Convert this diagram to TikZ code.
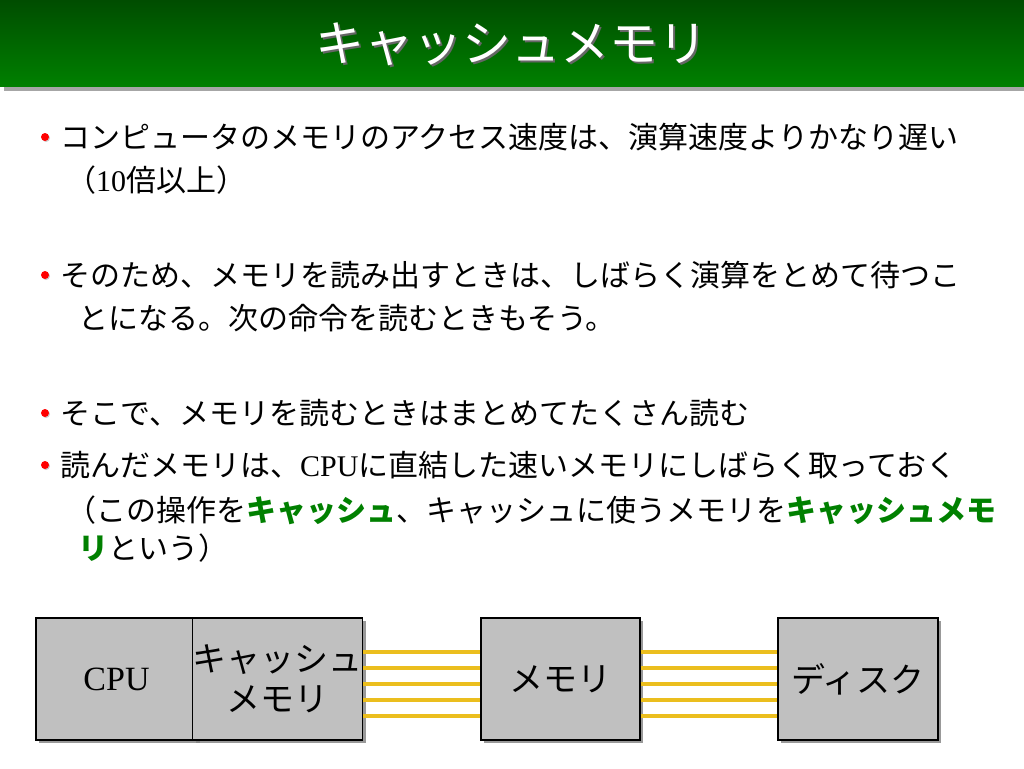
\documentclass[tikz,border=0pt]{standalone}
\usepackage{fontspec}
\setmainfont{Noto Sans CJK JP}
\newfontfamily\cjk{Noto Sans CJK JP}
\newfontfamily\tms{Liberation Serif}
\usetikzlibrary{shadows}
\definecolor{tgreen}{RGB}{0,128,0}
\definecolor{boxgray}{RGB}{192,192,192}
\definecolor{wire}{RGB}{235,190,30}
\begin{document}
\begin{tikzpicture}[x=1pt,y=-1pt,
  txt/.style={anchor=west,inner sep=0pt,font=\fontsize{30}{30}\selectfont},
  bul/.style={circle,fill=red,inner sep=0pt,minimum size=8pt,drop shadow={shadow xshift=1pt,shadow yshift=-1pt,opacity=0.4}},
  blk/.style={draw=black,line width=1.2pt,fill=boxgray,inner sep=0pt,drop shadow={shadow xshift=3pt,shadow yshift=-3pt,fill=gray,opacity=0.8},font=\fontsize{34}{40}\selectfont,align=center},
  wr/.style={draw=wire,line width=3.5pt}]
\useasboundingbox (0,0) rectangle (1024,768);
\fill[gray!70] (4,86) rectangle (1024,91);
\shade[top color=black!40!tgreen,bottom color=tgreen] (0,0) rectangle (1024,86);
\node (title) [font=\fontsize{49}{49}\selectfont,text=black!60] at (513,46) {キャッシュメモリ};
\node (title2) [font=\fontsize{49}{49}\selectfont,text=white] at (511,44) {キャッシュメモリ};
\node (b1) [bul] at (45,137) {};
\node (t1) [txt] at (60,137) {コンピュータのメモリのアクセス速度は、演算速度よりかなり遅い};
\node (t1b) [txt] at (66,180) {（{\tms 10}倍以上）};
\node (b2) [bul] at (45,275) {};
\node (t2) [txt] at (60,275) {そのため、メモリを読み出すときは、しばらく演算をとめて待つこ};
\node (t2b) [txt] at (78,318) {とになる。次の命令を読むときもそう。};
\node (b3) [bul] at (45,413) {};
\node (t3) [txt] at (60,413) {そこで、メモリを読むときはまとめてたくさん読む};
\node (b4) [bul] at (45,465) {};
\node (t4) [txt] at (60,465) {読んだメモリは、{\tms CPU}に直結した速いメモリにしばらく取っておく};
\node (t4b) [txt] at (66,510) {（この操作を{\color{tgreen}\bfseries キャッシュ}、キャッシュに使うメモリを{\color{tgreen}\bfseries キャッシュメモ}};
\node (t4c) [txt] at (78,548) {{\color{tgreen}\bfseries リ}という）};
\node (cpu) [blk,minimum width=161pt,minimum height=122pt] at (116.5,679) {\tms CPU};
\node (cache) [blk,minimum width=161pt,minimum height=122pt] at (277.5,679) {キャッシュ\\メモリ};
\node (mem) [blk,minimum width=159pt,minimum height=122pt] at (560.5,679) {メモリ};
\node (disk) [blk,minimum width=160pt,minimum height=122pt] at (858,679) {ディスク};
\foreach \dy in {-37,-21,-5,11,27} {
  \draw[wr] ([yshift=\dy]cache.east) -- ([yshift=\dy]mem.west);
  \draw[wr] ([yshift=\dy]mem.east) -- ([yshift=\dy]disk.west);
}
\end{tikzpicture}
\end{document}
